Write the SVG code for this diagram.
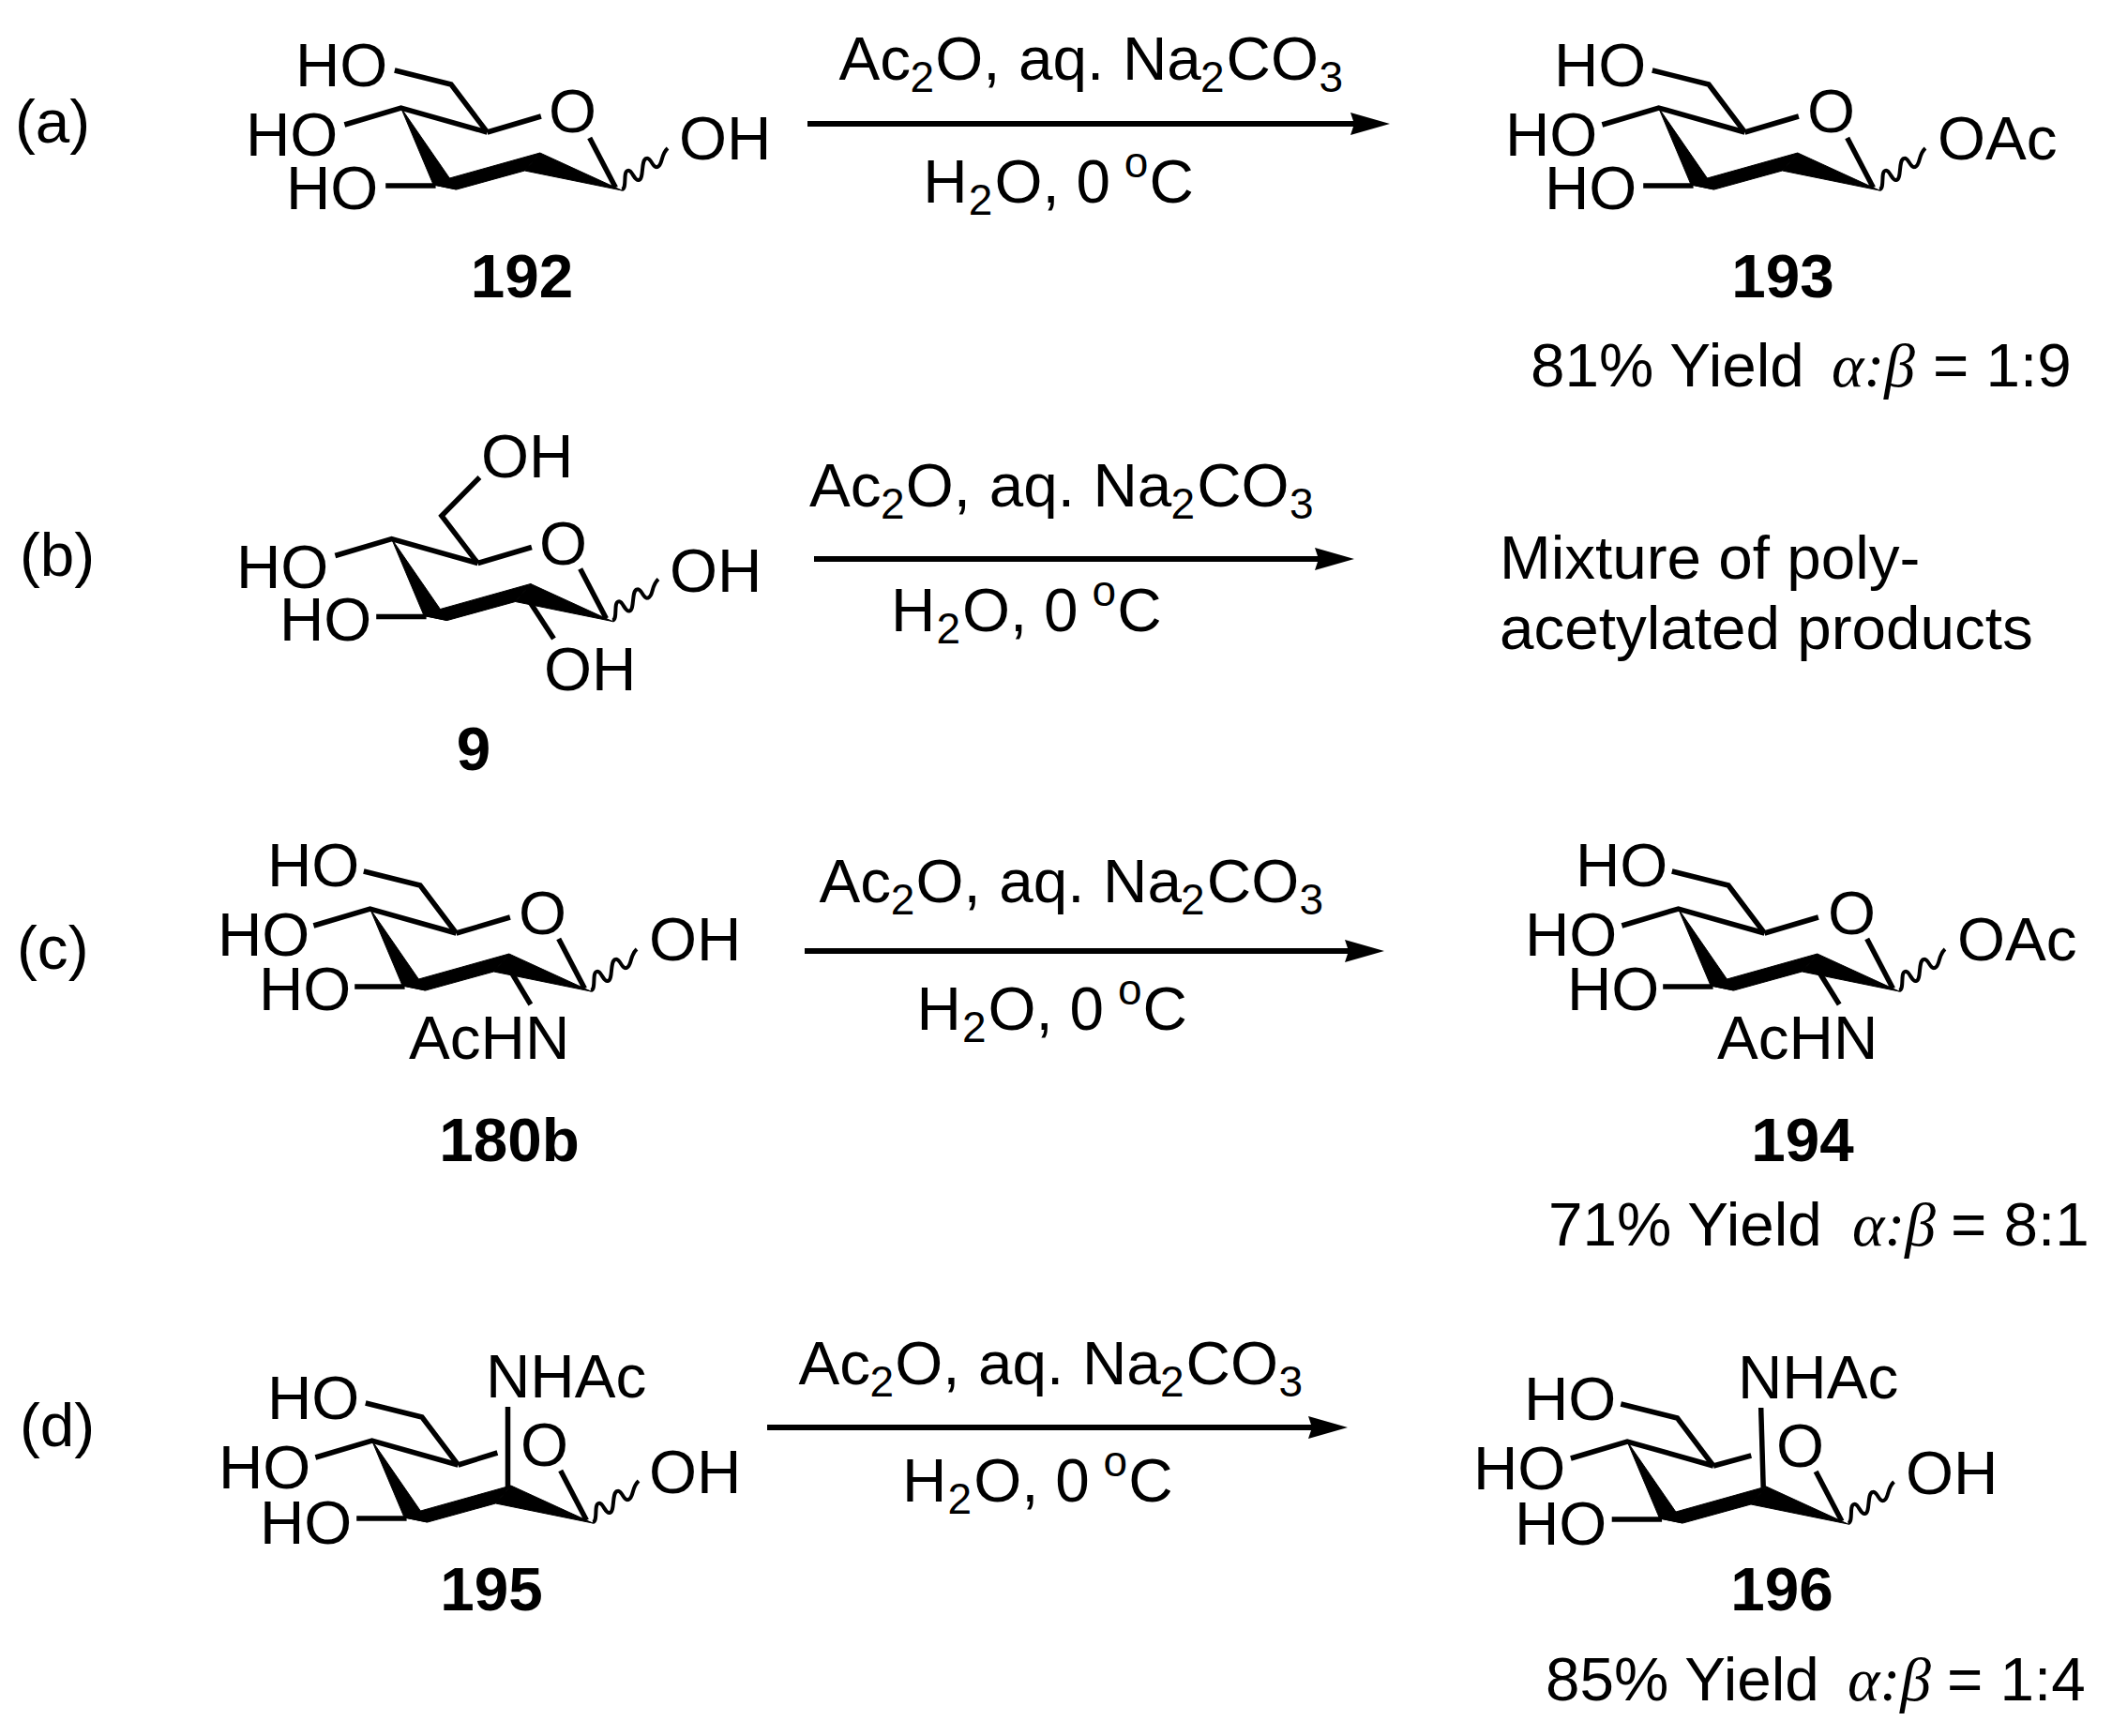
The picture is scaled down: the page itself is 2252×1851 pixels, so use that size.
<svg xmlns="http://www.w3.org/2000/svg" width="2252" height="1851" viewBox="0 0 2252 1851">
<style>
text{font-family:"Liberation Sans",Arial,sans-serif;font-size:65.6px;fill:#000}
.b{font-weight:bold;text-anchor:middle}
.s{font-size:46px}
.i{font-family:"Liberation Serif","Times New Roman",serif;font-style:italic}
.bond{fill:none;stroke:#000;stroke-width:5.5;stroke-linecap:butt;stroke-linejoin:miter}
.wavy{fill:none;stroke:#000;stroke-width:4}
.arrow{stroke:#000;stroke-width:6;fill:none}
.solid{fill:#000;stroke:#000;stroke-width:1;stroke-linejoin:round}
</style>
<defs>
<g id="ring">
<path class="bond" d="M367.4 133L427.6 115L519.5 141"/>
<path class="solid" d="M427.6 115L462.1 197L486.4 202L479.4 190Z"/>
<path class="solid" d="M462.1 197L479.4 190L575.8 163L559.5 182L486.9 202Z"/>
<path class="solid" d="M575.8 163L663 203L559.5 182Z"/>
<path class="bond" d="M628.7 147L656.4 200"/>
<path class="bond" d="M411.2 198H464.6"/>
<path class="wavy" d="M663 202C669 201 664 184 669 182C674 180 676 193 681 192C687 191 683 171 689 169C694 167 696 180 701 178C707 176 704 165 712 158"/>
</g>
<path id="arm" class="bond" d="M420.8 75L481 90L519.5 141"/>
<path id="obond" class="bond" d="M519.5 141L576.9 124"/>
<marker id="head" markerUnits="userSpaceOnUse" markerWidth="44" markerHeight="28" refX="4" refY="14" orient="auto"><path d="M0 2L42 14L0 26L4 14Z" fill="#000"/></marker>
</defs>
<g id="connectors">
<path id="arrow-a" class="arrow" marker-end="url(#head)" d="M861 132H1444"/>
<path id="arrow-b" class="arrow" marker-end="url(#head)" d="M868 596H1406"/>
<path id="arrow-c" class="arrow" marker-end="url(#head)" d="M858 1014H1438"/>
<path id="arrow-d" class="arrow" marker-end="url(#head)" d="M818 1522H1399"/>
</g>
<g id="label-a"><text x="16" y="152">(a)</text></g>
<g id="label-b"><text x="21" y="614">(b)</text></g>
<g id="label-c"><text x="18" y="1033">(c)</text></g>
<g id="label-d"><text x="21" y="1542">(d)</text></g>

<g id="cond-a">
<text y="85"><tspan x="894.4">Ac</tspan><tspan class="s" x="970.5" dy="13">2</tspan><tspan x="997.2" dy="-13">O,</tspan><tspan x="1086.1">aq.</tspan><tspan x="1196.9">Na</tspan><tspan class="s" x="1279.9" dy="13">2</tspan><tspan x="1307.6" dy="-13">CO</tspan><tspan class="s" x="1406.4" dy="13">3</tspan></text>
<text y="216"><tspan x="984.3">H</tspan><tspan class="s" x="1032.8" dy="13">2</tspan><tspan x="1060.4" dy="-13">O,</tspan><tspan x="1147.4">0</tspan><tspan class="s" x="1198.8" dy="-27">o</tspan><tspan x="1225.5" dy="27">C</tspan></text>
</g>
<g id="cond-b">
<text y="540"><tspan x="863">Ac</tspan><tspan class="s" x="939.1" dy="13">2</tspan><tspan x="965.8" dy="-13">O,</tspan><tspan x="1054.7">aq.</tspan><tspan x="1165.5">Na</tspan><tspan class="s" x="1248.5" dy="13">2</tspan><tspan x="1276.2" dy="-13">CO</tspan><tspan class="s" x="1375" dy="13">3</tspan></text>
<text y="673"><tspan x="950">H</tspan><tspan class="s" x="998.5" dy="13">2</tspan><tspan x="1026.1" dy="-13">O,</tspan><tspan x="1113.1">0</tspan><tspan class="s" x="1164.5" dy="-27">o</tspan><tspan x="1191.2" dy="27">C</tspan></text>
</g>
<g id="cond-c">
<text y="962"><tspan x="873.6">Ac</tspan><tspan class="s" x="949.7" dy="13">2</tspan><tspan x="976.4" dy="-13">O,</tspan><tspan x="1065.3">aq.</tspan><tspan x="1176.1">Na</tspan><tspan class="s" x="1259.1" dy="13">2</tspan><tspan x="1286.8" dy="-13">CO</tspan><tspan class="s" x="1385.6" dy="13">3</tspan></text>
<text y="1098"><tspan x="977.4">H</tspan><tspan class="s" x="1025.9" dy="13">2</tspan><tspan x="1053.5" dy="-13">O,</tspan><tspan x="1140.5">0</tspan><tspan class="s" x="1191.9" dy="-27">o</tspan><tspan x="1218.6" dy="27">C</tspan></text>
</g>
<g id="cond-d">
<text y="1476"><tspan x="851.4">Ac</tspan><tspan class="s" x="927.5" dy="13">2</tspan><tspan x="954.2" dy="-13">O,</tspan><tspan x="1043.1">aq.</tspan><tspan x="1153.9">Na</tspan><tspan class="s" x="1236.9" dy="13">2</tspan><tspan x="1264.6" dy="-13">CO</tspan><tspan class="s" x="1363.4" dy="13">3</tspan></text>
<text y="1601"><tspan x="962.1">H</tspan><tspan class="s" x="1010.6" dy="13">2</tspan><tspan x="1038.2" dy="-13">O,</tspan><tspan x="1125.2">0</tspan><tspan class="s" x="1176.6" dy="-27">o</tspan><tspan x="1203.3" dy="27">C</tspan></text>
</g>

<g id="node-192">
<use href="#ring"/><use href="#arm"/><use href="#obond"/>
<text x="315" y="92">HO</text><text x="262" y="166">HO</text><text x="305" y="223">HO</text><text x="585" y="141">O</text><text x="724" y="170">OH</text>
<text class="b" x="556.5" y="317">192</text>
</g>
<g id="node-193">
<g transform="translate(1341 0)"><use href="#ring"/><use href="#arm"/><use href="#obond"/></g>
<text x="1657" y="92">HO</text><text x="1605" y="166">HO</text><text x="1647" y="223">HO</text><text x="1927" y="141">O</text><text x="2066" y="170">OAc</text>
<text class="b" x="1901" y="317">193</text>
<text y="412"><tspan x="1632">81% Yield</tspan><tspan class="i" x="1953">α:β</tspan><tspan x="2061">= 1:9</tspan></text>
</g>
<g id="node-9">
<g transform="translate(-10 459.5)"><use href="#ring"/><use href="#obond"/></g>
<path class="bond" d="M511.4 509L470.9 550L509.5 600.5"/>
<path class="bond" d="M563.8 640L590.5 681"/>
<text x="513" y="509">OH</text><text x="252" y="627">HO</text><text x="298" y="683">HO</text><text x="575" y="602">O</text><text x="714" y="631">OH</text><text x="580" y="736">OH</text>
<text class="b" x="505" y="821">9</text>
</g>
<g id="node-mixture">
<text x="1599" y="617">Mixture of poly-</text>
<text x="1599" y="692">acetylated products</text>
</g>
<g id="node-180b">
<g transform="translate(-33 854)"><use href="#ring"/><use href="#arm"/><use href="#obond"/></g>
<path class="bond" d="M543 1033L565.8 1071"/>
<text x="285" y="945">HO</text><text x="232" y="1019">HO</text><text x="276" y="1077">HO</text><text x="553" y="996">O</text><text x="692" y="1024">OH</text><text x="436" y="1129">AcHN</text>
<text class="b" x="543" y="1238">180b</text>
</g>
<g id="node-194">
<g transform="translate(1362 854)"><use href="#ring"/><use href="#arm"/><use href="#obond"/></g>
<path class="bond" d="M1937.5 1033L1961.2 1071"/>
<text x="1680" y="945">HO</text><text x="1626" y="1019">HO</text><text x="1671" y="1077">HO</text><text x="1949" y="996">O</text><text x="2087" y="1024">OAc</text><text x="1831" y="1129">AcHN</text>
<text class="b" x="1922" y="1238">194</text>
<text y="1328"><tspan x="1651">71% Yield</tspan><tspan class="i" x="1975">α:β</tspan><tspan x="2080">= 8:1</tspan></text>
</g>
<g id="node-195">
<g transform="translate(-31 1421)"><use href="#ring"/><use href="#arm"/></g>
<path class="bond" d="M488.5 1562L530.4 1549"/>
<path class="bond" d="M541.5 1500V1586"/>
<text x="285" y="1513">HO</text><text x="233" y="1587">HO</text><text x="277" y="1646">HO</text><text x="518" y="1490">NHAc</text><text x="555" y="1563">O</text><text x="692" y="1592">OH</text>
<text class="b" x="524" y="1717">195</text>
</g>
<g id="node-196">
<g transform="translate(1307.5 1422)"><use href="#ring"/><use href="#arm"/></g>
<path class="bond" d="M1827 1563L1867.3 1552"/>
<path class="bond" d="M1877.7 1501L1880.2 1586"/>
<text x="1625" y="1514">HO</text><text x="1571" y="1588">HO</text><text x="1615" y="1647">HO</text><text x="1853" y="1491">NHAc</text><text x="1894" y="1564">O</text><text x="2032" y="1593">OH</text>
<text class="b" x="1900" y="1717">196</text>
<text y="1813"><tspan x="1648">85% Yield</tspan><tspan class="i" x="1970">α:β</tspan><tspan x="2076">= 1:4</tspan></text>
</g>
</svg>
